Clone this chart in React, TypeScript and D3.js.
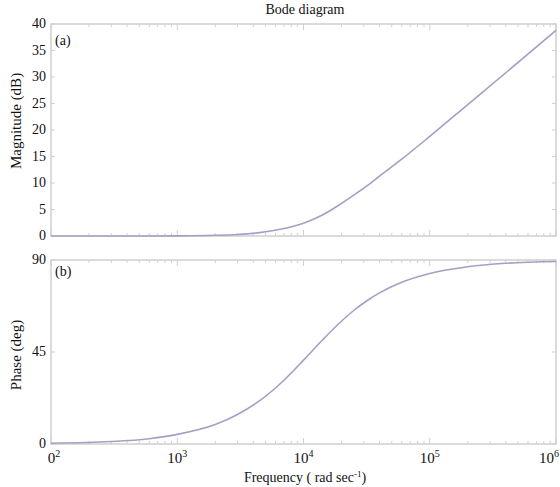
import React from "react";
import * as d3 from "d3";

const freqs = [1e2, 3e2, 6e2, 1e3, 2e3, 3e3, 4.5e3, 7e3, 1e4, 1.4e4, 1.9e4, 2.5e4, 3.2e4, 4e4, 6e4, 1e5, 2e5, 4e5, 1e6];
const magnitude = [0, 0, 0.01, 0.03, 0.13, 0.29, 0.63, 1.4, 2.4, 3.9, 5.8, 7.7, 9.5, 11.3, 14.5, 18.8, 24.8, 30.8, 38.8];
const phase = [0.4, 1.2, 2.6, 4.7, 9.5, 14.4, 21.2, 31.2, 41, 50.6, 58.8, 65.3, 70.2, 73.9, 79.1, 83.4, 86.7, 88.4, 89.3];
const magTicks = [0, 5, 10, 15, 20, 25, 30, 35, 40];
const phaseTicks = [0, 45, 90];
const decades = [2, 3, 4, 5, 6];

const FRAME = "#d0d0d0";
const CURVE = "#a3a0c6";
const FONT = "'Liberation Serif', 'Times New Roman', serif";

export default function App() {
  const W = 560, H = 487;
  const x0 = 51, x1 = 556;
  const x = d3.scaleLog().domain([1e2, 1e6]).range([x0, x1]);
  const yM = d3.scaleLinear().domain([0, 40]).range([236, 24]);
  const yP = d3.scaleLinear().domain([0, 90]).range([444, 260]);

  const minor: number[] = [];
  for (let d = 2; d < 6; d++) for (let m = 2; m <= 9; m++) minor.push(m * Math.pow(10, d));

  const lineM = d3.line<number>().x((_, i) => x(freqs[i])).y((v) => yM(v)).curve(d3.curveMonotoneX);
  const lineP = d3.line<number>().x((_, i) => x(freqs[i])).y((v) => yP(v)).curve(d3.curveMonotoneX);

  const panel = (y: d3.ScaleLinear<number, number>, ticks: number[], key: string) => {
    const [yb, yt] = y.range();
    return (
      <g key={key}>
        <rect x={x0} y={yt} width={x1 - x0} height={yb - yt} fill="none" stroke={FRAME} strokeWidth={1.5} />
        {ticks.map((t) => (
          <g key={t}>
            <line x1={x0} x2={x0 + 4} y1={y(t)} y2={y(t)} stroke={FRAME} />
            <line x1={x1 - 4} x2={x1} y1={y(t)} y2={y(t)} stroke={FRAME} />
            <text x={x0 - 5} y={y(t)} dy="0.3em" textAnchor="end" fontSize={14} fontFamily={FONT} fill="#111">{t}</text>
          </g>
        ))}
        {minor.map((f) => (
          <g key={f}>
            <line x1={x(f)} x2={x(f)} y1={yt} y2={yt + 3} stroke={FRAME} />
            <line x1={x(f)} x2={x(f)} y1={yb} y2={yb - 3} stroke={FRAME} />
          </g>
        ))}
        {decades.map((d) => (
          <g key={d}>
            <line x1={x(Math.pow(10, d))} x2={x(Math.pow(10, d))} y1={yt} y2={yt + 6} stroke={FRAME} />
            <line x1={x(Math.pow(10, d))} x2={x(Math.pow(10, d))} y1={yb} y2={yb - 6} stroke={FRAME} />
          </g>
        ))}
      </g>
    );
  };

  return (
    <svg width={W} height={H} style={{ position: "absolute", left: 0, top: 0, background: "#fff" }}>
      {panel(yM, magTicks, "m")}
      {panel(yP, phaseTicks, "p")}
      <path d={lineM(magnitude) || ""} fill="none" stroke={CURVE} strokeWidth={1.6} />
      <path d={lineP(phase) || ""} fill="none" stroke={CURVE} strokeWidth={1.6} />
      <text x={305} y={14} textAnchor="middle" fontSize={14} fontFamily={FONT} fill="#111">Bode diagram</text>
      <text x={55} y={45} fontSize={14} fontFamily={FONT} fill="#111">(a)</text>
      <text x={55} y={276} fontSize={14} fontFamily={FONT} fill="#111">(b)</text>
      <text transform={`translate(21,121) rotate(-90)`} textAnchor="middle" fontSize={15} fontFamily={FONT} fill="#111">Magnitude (dB)</text>
      <text transform={`translate(21,355) rotate(-90)`} textAnchor="middle" fontSize={15} fontFamily={FONT} fill="#111">Phase  (deg)</text>
      {decades.map((d) => {
        const px = x(Math.pow(10, d));
        const anchor = d === 6 ? "end" : "middle";
        const tx = d === 2 ? px + 3 : d === 6 ? 559 : px;
        return (
          <text key={d} x={tx} y={463} textAnchor={anchor} fontSize={15} fontFamily={FONT} fill="#111">
            {d === 2 ? "0" : "10"}
            <tspan dy={-6} fontSize={10}>{d}</tspan>
          </text>
        );
      })}
      <text x={305} y={482} textAnchor="middle" fontSize={14} fontFamily={FONT} fill="#111">
        Frequency ( rad sec<tspan dy={-5} fontSize={9}>-1</tspan><tspan dy={5}>)</tspan>
      </text>
    </svg>
  );
}
